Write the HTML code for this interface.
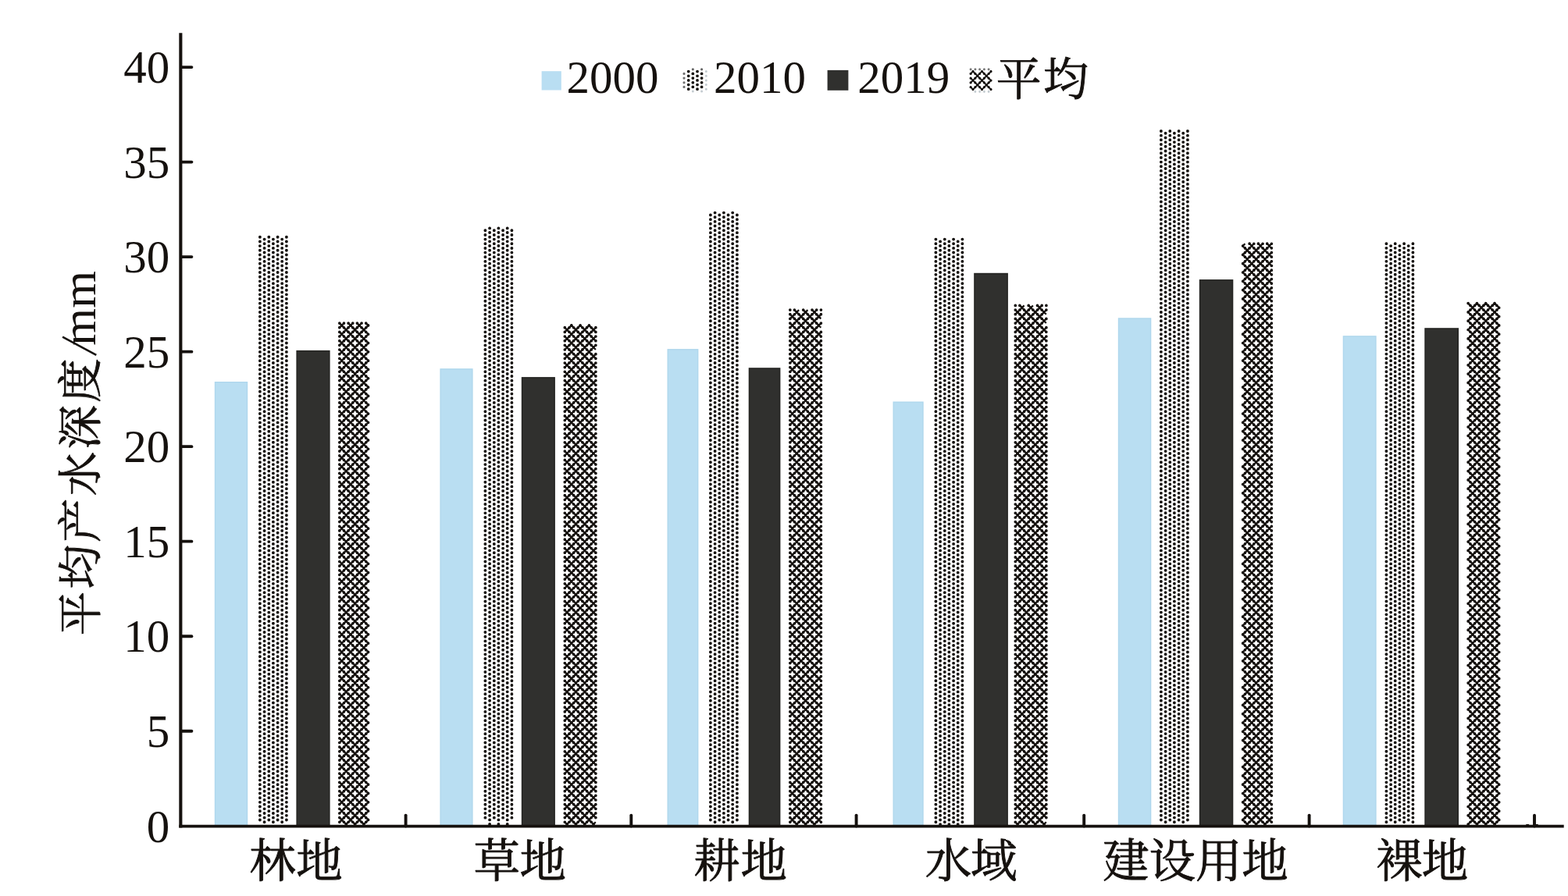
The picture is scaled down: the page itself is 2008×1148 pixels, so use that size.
<!DOCTYPE html>
<html lang="zh"><head><meta charset="utf-8"><title>chart</title>
<style>html,body{margin:0;padding:0;background:#fff;}svg{display:block;}text{font-family:"Liberation Serif",serif;fill:#15110e;}text.cjk{font-family:"Liberation Serif","Noto Serif CJK SC",serif;}</style></head><body>
<svg width="2008" height="1148" viewBox="0 0 2008 1148">
<rect width="2008" height="1148" fill="#fff"/>
<filter id="sb" color-interpolation-filters="sRGB" filterUnits="userSpaceOnUse" x="0" y="0" width="2008" height="1148"><feGaussianBlur stdDeviation="0.55"/></filter>
<g filter="url(#sb)">
<rect x="275.5" y="489.7" width="41.0" height="569.0" fill="#b9def2" stroke="#afd7ed" stroke-width="1.4"/>
<rect x="564.1" y="472.9" width="40.8" height="585.8" fill="#b9def2" stroke="#afd7ed" stroke-width="1.4"/>
<rect x="855.2" y="447.8" width="38.5" height="610.9" fill="#b9def2" stroke="#afd7ed" stroke-width="1.4"/>
<rect x="1144.2" y="515.2" width="37.8" height="543.5" fill="#b9def2" stroke="#afd7ed" stroke-width="1.4"/>
<rect x="1432.5" y="408.0" width="41.1" height="650.7" fill="#b9def2" stroke="#afd7ed" stroke-width="1.4"/>
<rect x="1720.4" y="430.9" width="41.5" height="627.8" fill="#b9def2" stroke="#afd7ed" stroke-width="1.4"/>
<rect x="380.2" y="449.7" width="41.6" height="609.0" fill="#30302e" stroke="#262624" stroke-width="1.6"/>
<rect x="668.6" y="483.9" width="41.5" height="574.8" fill="#30302e" stroke="#262624" stroke-width="1.6"/>
<rect x="959.5" y="472.0" width="39.1" height="586.7" fill="#30302e" stroke="#262624" stroke-width="1.6"/>
<rect x="1248.0" y="350.6" width="42.1" height="708.1" fill="#30302e" stroke="#262624" stroke-width="1.6"/>
<rect x="1536.6" y="358.9" width="41.9" height="699.8" fill="#30302e" stroke="#262624" stroke-width="1.6"/>
<rect x="1825.1" y="421.0" width="42.1" height="637.7" fill="#30302e" stroke="#262624" stroke-width="1.6"/>
</g>
<path d="M332.9,303.8V1056.1M338.6,306.6V1053.3M344.3,303.8V1056.1M349.9,306.6V1053.3M355.6,303.8V1056.1M361.2,306.6V1053.3M366.9,303.8V1056.1M621.4,295.3V1053.3M627.1,292.4V1056.1M632.8,295.3V1053.3M638.4,292.4V1056.1M644.1,295.3V1053.3M649.7,292.4V1056.1M655.4,295.3V1053.3M909.9,275.5V1056.1M915.6,272.6V1053.3M921.3,275.5V1056.1M926.9,272.6V1053.3M932.6,275.5V1056.1M938.2,272.6V1053.3M943.9,275.5V1056.1M1198.4,306.6V1053.3M1204.1,309.4V1056.1M1209.8,306.6V1053.3M1215.4,309.4V1056.1M1221.1,306.6V1053.3M1226.7,309.4V1056.1M1232.4,306.6V1053.3M1486.9,168V1056.1M1492.6,170.8V1053.3M1498.3,168V1056.1M1503.9,170.8V1053.3M1509.6,168V1056.1M1515.2,170.8V1053.3M1520.9,168V1056.1M1775.4,312.2V1053.3M1781.1,315.1V1056.1M1786.7,312.2V1053.3M1792.4,315.1V1056.1M1798.1,312.2V1053.3M1803.7,315.1V1056.1M1809.4,312.2V1053.3" fill="none" stroke="#15110e" stroke-width="3.9" stroke-linecap="round" stroke-dasharray="0 5.6568"/>
<defs><path id="cx" d="M434.8,1047.6l8.5,8.5M434.8,1036.3l19.8,19.8M434.8,1025l31.1,31.1M434.8,1013.7l36.8,36.8M434.8,1002.4l36.8,36.8M434.8,991.1l36.8,36.8M434.8,979.7l36.8,36.8M434.8,968.4l36.8,36.8M434.8,957.1l36.8,36.8M434.8,945.8l36.8,36.8M434.8,934.5l36.8,36.8M434.8,923.2l36.8,36.8M434.8,911.9l36.8,36.8M434.8,900.5l36.8,36.8M434.8,889.2l36.8,36.8M434.8,877.9l36.8,36.8M434.8,866.6l36.8,36.8M434.8,855.3l36.8,36.8M434.8,844l36.8,36.8M434.8,832.7l36.8,36.8M434.8,821.3l36.8,36.8M434.8,810l36.8,36.8M434.8,798.7l36.8,36.8M434.8,787.4l36.8,36.8M434.8,776.1l36.8,36.8M434.8,764.8l36.8,36.8M434.8,753.5l36.8,36.8M434.8,742.2l36.8,36.8M434.8,730.8l36.8,36.8M434.8,719.5l36.8,36.8M434.8,708.2l36.8,36.8M434.8,696.9l36.8,36.8M434.8,685.6l36.8,36.8M434.8,674.3l36.8,36.8M434.8,663l36.8,36.8M434.8,651.6l36.8,36.8M434.8,640.3l36.8,36.8M434.8,629l36.8,36.8M434.8,617.7l36.8,36.8M434.8,606.4l36.8,36.8M434.8,595.1l36.8,36.8M434.8,583.8l36.8,36.8M434.8,572.4l36.8,36.8M434.8,561.1l36.8,36.8M434.8,549.8l36.8,36.8M434.8,538.5l36.8,36.8M434.8,527.2l36.8,36.8M434.8,515.9l36.8,36.8M434.8,504.6l36.8,36.8M434.8,493.3l36.8,36.8M434.8,481.9l36.8,36.8M434.8,470.6l36.8,36.8M434.8,459.3l36.8,36.8M434.8,448l36.8,36.8M434.8,436.7l36.8,36.8M434.8,425.4l36.8,36.8M434.8,414.1l36.8,36.8M446.1,414.1l25.5,25.5M457.4,414.1l14.2,14.2M468.7,414.1l2.8,2.8M434.8,419.7l5.7,-5.7M434.8,431l17,-17M434.8,442.3l28.3,-28.3M434.8,453.7l36.8,-36.8M434.8,465l36.8,-36.8M434.8,476.3l36.8,-36.8M434.8,487.6l36.8,-36.8M434.8,498.9l36.8,-36.8M434.8,510.2l36.8,-36.8M434.8,521.5l36.8,-36.8M434.8,532.9l36.8,-36.8M434.8,544.2l36.8,-36.8M434.8,555.5l36.8,-36.8M434.8,566.8l36.8,-36.8M434.8,578.1l36.8,-36.8M434.8,589.4l36.8,-36.8M434.8,600.7l36.8,-36.8M434.8,612l36.8,-36.8M434.8,623.4l36.8,-36.8M434.8,634.7l36.8,-36.8M434.8,646l36.8,-36.8M434.8,657.3l36.8,-36.8M434.8,668.6l36.8,-36.8M434.8,679.9l36.8,-36.8M434.8,691.2l36.8,-36.8M434.8,702.6l36.8,-36.8M434.8,713.9l36.8,-36.8M434.8,725.2l36.8,-36.8M434.8,736.5l36.8,-36.8M434.8,747.8l36.8,-36.8M434.8,759.1l36.8,-36.8M434.8,770.4l36.8,-36.8M434.8,781.7l36.8,-36.8M434.8,793.1l36.8,-36.8M434.8,804.4l36.8,-36.8M434.8,815.7l36.8,-36.8M434.8,827l36.8,-36.8M434.8,838.3l36.8,-36.8M434.8,849.6l36.8,-36.8M434.8,860.9l36.8,-36.8M434.8,872.3l36.8,-36.8M434.8,883.6l36.8,-36.8M434.8,894.9l36.8,-36.8M434.8,906.2l36.8,-36.8M434.8,917.5l36.8,-36.8M434.8,928.8l36.8,-36.8M434.8,940.1l36.8,-36.8M434.8,951.5l36.8,-36.8M434.8,962.8l36.8,-36.8M434.8,974.1l36.8,-36.8M434.8,985.4l36.8,-36.8M434.8,996.7l36.8,-36.8M434.8,1008l36.8,-36.8M434.8,1019.3l36.8,-36.8M434.8,1030.6l36.8,-36.8M434.8,1042l36.8,-36.8M434.8,1053.3l36.8,-36.8M443.3,1056.1l28.3,-28.3M454.6,1056.1l17,-17M465.9,1056.1l5.7,-5.7M723.3,1053.3l2.8,2.8M723.3,1042l14.2,14.2M723.3,1030.6l25.5,25.5M723.3,1019.3l36.8,36.8M723.3,1008l39.6,39.6M723.3,996.7l39.6,39.6M723.3,985.4l39.6,39.6M723.3,974.1l39.6,39.6M723.3,962.8l39.6,39.6M723.3,951.5l39.6,39.6M723.3,940.1l39.6,39.6M723.3,928.8l39.6,39.6M723.3,917.5l39.6,39.6M723.3,906.2l39.6,39.6M723.3,894.9l39.6,39.6M723.3,883.6l39.6,39.6M723.3,872.3l39.6,39.6M723.3,860.9l39.6,39.6M723.3,849.6l39.6,39.6M723.3,838.3l39.6,39.6M723.3,827l39.6,39.6M723.3,815.7l39.6,39.6M723.3,804.4l39.6,39.6M723.3,793.1l39.6,39.6M723.3,781.7l39.6,39.6M723.3,770.4l39.6,39.6M723.3,759.1l39.6,39.6M723.3,747.8l39.6,39.6M723.3,736.5l39.6,39.6M723.3,725.2l39.6,39.6M723.3,713.9l39.6,39.6M723.3,702.6l39.6,39.6M723.3,691.2l39.6,39.6M723.3,679.9l39.6,39.6M723.3,668.6l39.6,39.6M723.3,657.3l39.6,39.6M723.3,646l39.6,39.6M723.3,634.7l39.6,39.6M723.3,623.4l39.6,39.6M723.3,612l39.6,39.6M723.3,600.7l39.6,39.6M723.3,589.4l39.6,39.6M723.3,578.1l39.6,39.6M723.3,566.8l39.6,39.6M723.3,555.5l39.6,39.6M723.3,544.2l39.6,39.6M723.3,532.9l39.6,39.6M723.3,521.5l39.6,39.6M723.3,510.2l39.6,39.6M723.3,498.9l39.6,39.6M723.3,487.6l39.6,39.6M723.3,476.3l39.6,39.6M723.3,465l39.6,39.6M723.3,453.7l39.6,39.6M723.3,442.3l39.6,39.6M723.3,431l39.6,39.6M723.3,419.7l39.6,39.6M731.8,416.9l31.1,31.1M743.1,416.9l19.8,19.8M754.4,416.9l8.5,8.5M723.3,425.4l8.5,-8.5M723.3,436.7l19.8,-19.8M723.3,448l31.1,-31.1M723.3,459.3l39.6,-39.6M723.3,470.6l39.6,-39.6M723.3,481.9l39.6,-39.6M723.3,493.3l39.6,-39.6M723.3,504.6l39.6,-39.6M723.3,515.9l39.6,-39.6M723.3,527.2l39.6,-39.6M723.3,538.5l39.6,-39.6M723.3,549.8l39.6,-39.6M723.3,561.1l39.6,-39.6M723.3,572.4l39.6,-39.6M723.3,583.8l39.6,-39.6M723.3,595.1l39.6,-39.6M723.3,606.4l39.6,-39.6M723.3,617.7l39.6,-39.6M723.3,629l39.6,-39.6M723.3,640.3l39.6,-39.6M723.3,651.6l39.6,-39.6M723.3,663l39.6,-39.6M723.3,674.3l39.6,-39.6M723.3,685.6l39.6,-39.6M723.3,696.9l39.6,-39.6M723.3,708.2l39.6,-39.6M723.3,719.5l39.6,-39.6M723.3,730.8l39.6,-39.6M723.3,742.2l39.6,-39.6M723.3,753.5l39.6,-39.6M723.3,764.8l39.6,-39.6M723.3,776.1l39.6,-39.6M723.3,787.4l39.6,-39.6M723.3,798.7l39.6,-39.6M723.3,810l39.6,-39.6M723.3,821.3l39.6,-39.6M723.3,832.7l39.6,-39.6M723.3,844l39.6,-39.6M723.3,855.3l39.6,-39.6M723.3,866.6l39.6,-39.6M723.3,877.9l39.6,-39.6M723.3,889.2l39.6,-39.6M723.3,900.5l39.6,-39.6M723.3,911.9l39.6,-39.6M723.3,923.2l39.6,-39.6M723.3,934.5l39.6,-39.6M723.3,945.8l39.6,-39.6M723.3,957.1l39.6,-39.6M723.3,968.4l39.6,-39.6M723.3,979.7l39.6,-39.6M723.3,991.1l39.6,-39.6M723.3,1002.4l39.6,-39.6M723.3,1013.7l39.6,-39.6M723.3,1025l39.6,-39.6M723.3,1036.3l39.6,-39.6M723.3,1047.6l39.6,-39.6M726.1,1056.1l36.8,-36.8M737.4,1056.1l25.5,-25.5M748.7,1056.1l14.2,-14.2M760,1056.1l2.8,-2.8M1011.8,1047.6l8.5,8.5M1011.8,1036.3l19.8,19.8M1011.8,1025l31.1,31.1M1011.8,1013.7l39.6,39.6M1011.8,1002.4l39.6,39.6M1011.8,991.1l39.6,39.6M1011.8,979.7l39.6,39.6M1011.8,968.4l39.6,39.6M1011.8,957.1l39.6,39.6M1011.8,945.8l39.6,39.6M1011.8,934.5l39.6,39.6M1011.8,923.2l39.6,39.6M1011.8,911.9l39.6,39.6M1011.8,900.5l39.6,39.6M1011.8,889.2l39.6,39.6M1011.8,877.9l39.6,39.6M1011.8,866.6l39.6,39.6M1011.8,855.3l39.6,39.6M1011.8,844l39.6,39.6M1011.8,832.7l39.6,39.6M1011.8,821.3l39.6,39.6M1011.8,810l39.6,39.6M1011.8,798.7l39.6,39.6M1011.8,787.4l39.6,39.6M1011.8,776.1l39.6,39.6M1011.8,764.8l39.6,39.6M1011.8,753.5l39.6,39.6M1011.8,742.2l39.6,39.6M1011.8,730.8l39.6,39.6M1011.8,719.5l39.6,39.6M1011.8,708.2l39.6,39.6M1011.8,696.9l39.6,39.6M1011.8,685.6l39.6,39.6M1011.8,674.3l39.6,39.6M1011.8,663l39.6,39.6M1011.8,651.6l39.6,39.6M1011.8,640.3l39.6,39.6M1011.8,629l39.6,39.6M1011.8,617.7l39.6,39.6M1011.8,606.4l39.6,39.6M1011.8,595.1l39.6,39.6M1011.8,583.8l39.6,39.6M1011.8,572.4l39.6,39.6M1011.8,561.1l39.6,39.6M1011.8,549.8l39.6,39.6M1011.8,538.5l39.6,39.6M1011.8,527.2l39.6,39.6M1011.8,515.9l39.6,39.6M1011.8,504.6l39.6,39.6M1011.8,493.3l39.6,39.6M1011.8,481.9l39.6,39.6M1011.8,470.6l39.6,39.6M1011.8,459.3l39.6,39.6M1011.8,448l39.6,39.6M1011.8,436.7l39.6,39.6M1011.8,425.4l39.6,39.6M1011.8,414.1l39.6,39.6M1011.8,402.7l39.6,39.6M1017.4,397.1l34,34M1028.7,397.1l22.6,22.6M1040,397.1l11.3,11.3M1051.4,397.1l0.02,0.02M1011.8,397.1l0.02,-0.02M1011.8,408.4l11.3,-11.3M1011.8,419.7l22.6,-22.6M1011.8,431l34,-34M1011.8,442.3l39.6,-39.6M1011.8,453.7l39.6,-39.6M1011.8,465l39.6,-39.6M1011.8,476.3l39.6,-39.6M1011.8,487.6l39.6,-39.6M1011.8,498.9l39.6,-39.6M1011.8,510.2l39.6,-39.6M1011.8,521.5l39.6,-39.6M1011.8,532.9l39.6,-39.6M1011.8,544.2l39.6,-39.6M1011.8,555.5l39.6,-39.6M1011.8,566.8l39.6,-39.6M1011.8,578.1l39.6,-39.6M1011.8,589.4l39.6,-39.6M1011.8,600.7l39.6,-39.6M1011.8,612l39.6,-39.6M1011.8,623.4l39.6,-39.6M1011.8,634.7l39.6,-39.6M1011.8,646l39.6,-39.6M1011.8,657.3l39.6,-39.6M1011.8,668.6l39.6,-39.6M1011.8,679.9l39.6,-39.6M1011.8,691.2l39.6,-39.6M1011.8,702.6l39.6,-39.6M1011.8,713.9l39.6,-39.6M1011.8,725.2l39.6,-39.6M1011.8,736.5l39.6,-39.6M1011.8,747.8l39.6,-39.6M1011.8,759.1l39.6,-39.6M1011.8,770.4l39.6,-39.6M1011.8,781.7l39.6,-39.6M1011.8,793.1l39.6,-39.6M1011.8,804.4l39.6,-39.6M1011.8,815.7l39.6,-39.6M1011.8,827l39.6,-39.6M1011.8,838.3l39.6,-39.6M1011.8,849.6l39.6,-39.6M1011.8,860.9l39.6,-39.6M1011.8,872.3l39.6,-39.6M1011.8,883.6l39.6,-39.6M1011.8,894.9l39.6,-39.6M1011.8,906.2l39.6,-39.6M1011.8,917.5l39.6,-39.6M1011.8,928.8l39.6,-39.6M1011.8,940.1l39.6,-39.6M1011.8,951.5l39.6,-39.6M1011.8,962.8l39.6,-39.6M1011.8,974.1l39.6,-39.6M1011.8,985.4l39.6,-39.6M1011.8,996.7l39.6,-39.6M1011.8,1008l39.6,-39.6M1011.8,1019.3l39.6,-39.6M1011.8,1030.6l39.6,-39.6M1011.8,1042l39.6,-39.6M1011.8,1053.3l39.6,-39.6M1020.3,1056.1l31.1,-31.1M1031.6,1056.1l19.8,-19.8M1042.9,1056.1l8.5,-8.5M1300.3,1053.3l2.8,2.8M1300.3,1042l14.2,14.2M1300.3,1030.6l25.5,25.5M1300.3,1019.3l36.8,36.8M1300.3,1008l39.6,39.6M1300.3,996.7l39.6,39.6M1300.3,985.4l39.6,39.6M1300.3,974.1l39.6,39.6M1300.3,962.8l39.6,39.6M1300.3,951.5l39.6,39.6M1300.3,940.1l39.6,39.6M1300.3,928.8l39.6,39.6M1300.3,917.5l39.6,39.6M1300.3,906.2l39.6,39.6M1300.3,894.9l39.6,39.6M1300.3,883.6l39.6,39.6M1300.3,872.3l39.6,39.6M1300.3,860.9l39.6,39.6M1300.3,849.6l39.6,39.6M1300.3,838.3l39.6,39.6M1300.3,827l39.6,39.6M1300.3,815.7l39.6,39.6M1300.3,804.4l39.6,39.6M1300.3,793.1l39.6,39.6M1300.3,781.7l39.6,39.6M1300.3,770.4l39.6,39.6M1300.3,759.1l39.6,39.6M1300.3,747.8l39.6,39.6M1300.3,736.5l39.6,39.6M1300.3,725.2l39.6,39.6M1300.3,713.9l39.6,39.6M1300.3,702.6l39.6,39.6M1300.3,691.2l39.6,39.6M1300.3,679.9l39.6,39.6M1300.3,668.6l39.6,39.6M1300.3,657.3l39.6,39.6M1300.3,646l39.6,39.6M1300.3,634.7l39.6,39.6M1300.3,623.4l39.6,39.6M1300.3,612l39.6,39.6M1300.3,600.7l39.6,39.6M1300.3,589.4l39.6,39.6M1300.3,578.1l39.6,39.6M1300.3,566.8l39.6,39.6M1300.3,555.5l39.6,39.6M1300.3,544.2l39.6,39.6M1300.3,532.9l39.6,39.6M1300.3,521.5l39.6,39.6M1300.3,510.2l39.6,39.6M1300.3,498.9l39.6,39.6M1300.3,487.6l39.6,39.6M1300.3,476.3l39.6,39.6M1300.3,465l39.6,39.6M1300.3,453.7l39.6,39.6M1300.3,442.3l39.6,39.6M1300.3,431l39.6,39.6M1300.3,419.7l39.6,39.6M1300.3,408.4l39.6,39.6M1300.3,397.1l39.6,39.6M1305.9,391.4l34,34M1317.2,391.4l22.6,22.6M1328.5,391.4l11.3,11.3M1339.9,391.4l0.02,0.02M1300.3,391.4l0.02,-0.02M1300.3,402.7l11.3,-11.3M1300.3,414.1l22.6,-22.6M1300.3,425.4l34,-34M1300.3,436.7l39.6,-39.6M1300.3,448l39.6,-39.6M1300.3,459.3l39.6,-39.6M1300.3,470.6l39.6,-39.6M1300.3,481.9l39.6,-39.6M1300.3,493.3l39.6,-39.6M1300.3,504.6l39.6,-39.6M1300.3,515.9l39.6,-39.6M1300.3,527.2l39.6,-39.6M1300.3,538.5l39.6,-39.6M1300.3,549.8l39.6,-39.6M1300.3,561.1l39.6,-39.6M1300.3,572.4l39.6,-39.6M1300.3,583.8l39.6,-39.6M1300.3,595.1l39.6,-39.6M1300.3,606.4l39.6,-39.6M1300.3,617.7l39.6,-39.6M1300.3,629l39.6,-39.6M1300.3,640.3l39.6,-39.6M1300.3,651.6l39.6,-39.6M1300.3,663l39.6,-39.6M1300.3,674.3l39.6,-39.6M1300.3,685.6l39.6,-39.6M1300.3,696.9l39.6,-39.6M1300.3,708.2l39.6,-39.6M1300.3,719.5l39.6,-39.6M1300.3,730.8l39.6,-39.6M1300.3,742.2l39.6,-39.6M1300.3,753.5l39.6,-39.6M1300.3,764.8l39.6,-39.6M1300.3,776.1l39.6,-39.6M1300.3,787.4l39.6,-39.6M1300.3,798.7l39.6,-39.6M1300.3,810l39.6,-39.6M1300.3,821.3l39.6,-39.6M1300.3,832.7l39.6,-39.6M1300.3,844l39.6,-39.6M1300.3,855.3l39.6,-39.6M1300.3,866.6l39.6,-39.6M1300.3,877.9l39.6,-39.6M1300.3,889.2l39.6,-39.6M1300.3,900.5l39.6,-39.6M1300.3,911.9l39.6,-39.6M1300.3,923.2l39.6,-39.6M1300.3,934.5l39.6,-39.6M1300.3,945.8l39.6,-39.6M1300.3,957.1l39.6,-39.6M1300.3,968.4l39.6,-39.6M1300.3,979.7l39.6,-39.6M1300.3,991.1l39.6,-39.6M1300.3,1002.4l39.6,-39.6M1300.3,1013.7l39.6,-39.6M1300.3,1025l39.6,-39.6M1300.3,1036.3l39.6,-39.6M1300.3,1047.6l39.6,-39.6M1303.1,1056.1l36.8,-36.8M1314.4,1056.1l25.5,-25.5M1325.7,1056.1l14.2,-14.2M1337,1056.1l2.8,-2.8M1591.6,1050.4l5.7,5.7M1591.6,1039.1l17,17M1591.6,1027.8l28.3,28.3M1591.6,1016.5l36.8,36.8M1591.6,1005.2l36.8,36.8M1591.6,993.9l36.8,36.8M1591.6,982.6l36.8,36.8M1591.6,971.3l36.8,36.8M1591.6,959.9l36.8,36.8M1591.6,948.6l36.8,36.8M1591.6,937.3l36.8,36.8M1591.6,926l36.8,36.8M1591.6,914.7l36.8,36.8M1591.6,903.4l36.8,36.8M1591.6,892.1l36.8,36.8M1591.6,880.7l36.8,36.8M1591.6,869.4l36.8,36.8M1591.6,858.1l36.8,36.8M1591.6,846.8l36.8,36.8M1591.6,835.5l36.8,36.8M1591.6,824.2l36.8,36.8M1591.6,812.9l36.8,36.8M1591.6,801.5l36.8,36.8M1591.6,790.2l36.8,36.8M1591.6,778.9l36.8,36.8M1591.6,767.6l36.8,36.8M1591.6,756.3l36.8,36.8M1591.6,745l36.8,36.8M1591.6,733.7l36.8,36.8M1591.6,722.4l36.8,36.8M1591.6,711l36.8,36.8M1591.6,699.7l36.8,36.8M1591.6,688.4l36.8,36.8M1591.6,677.1l36.8,36.8M1591.6,665.8l36.8,36.8M1591.6,654.5l36.8,36.8M1591.6,643.2l36.8,36.8M1591.6,631.8l36.8,36.8M1591.6,620.5l36.8,36.8M1591.6,609.2l36.8,36.8M1591.6,597.9l36.8,36.8M1591.6,586.6l36.8,36.8M1591.6,575.3l36.8,36.8M1591.6,564l36.8,36.8M1591.6,552.6l36.8,36.8M1591.6,541.3l36.8,36.8M1591.6,530l36.8,36.8M1591.6,518.7l36.8,36.8M1591.6,507.4l36.8,36.8M1591.6,496.1l36.8,36.8M1591.6,484.8l36.8,36.8M1591.6,473.5l36.8,36.8M1591.6,462.1l36.8,36.8M1591.6,450.8l36.8,36.8M1591.6,439.5l36.8,36.8M1591.6,428.2l36.8,36.8M1591.6,416.9l36.8,36.8M1591.6,405.6l36.8,36.8M1591.6,394.3l36.8,36.8M1591.6,382.9l36.8,36.8M1591.6,371.6l36.8,36.8M1591.6,360.3l36.8,36.8M1591.6,349l36.8,36.8M1591.6,337.7l36.8,36.8M1591.6,326.4l36.8,36.8M1591.6,315.1l36.8,36.8M1600.1,312.2l28.3,28.3M1611.4,312.2l17,17M1622.7,312.2l5.7,5.7M1591.6,315.1l2.8,-2.8M1591.6,326.4l14.2,-14.2M1591.6,337.7l25.5,-25.5M1591.6,349l36.8,-36.8M1591.6,360.3l36.8,-36.8M1591.6,371.6l36.8,-36.8M1591.6,382.9l36.8,-36.8M1591.6,394.3l36.8,-36.8M1591.6,405.6l36.8,-36.8M1591.6,416.9l36.8,-36.8M1591.6,428.2l36.8,-36.8M1591.6,439.5l36.8,-36.8M1591.6,450.8l36.8,-36.8M1591.6,462.1l36.8,-36.8M1591.6,473.5l36.8,-36.8M1591.6,484.8l36.8,-36.8M1591.6,496.1l36.8,-36.8M1591.6,507.4l36.8,-36.8M1591.6,518.7l36.8,-36.8M1591.6,530l36.8,-36.8M1591.6,541.3l36.8,-36.8M1591.6,552.6l36.8,-36.8M1591.6,564l36.8,-36.8M1591.6,575.3l36.8,-36.8M1591.6,586.6l36.8,-36.8M1591.6,597.9l36.8,-36.8M1591.6,609.2l36.8,-36.8M1591.6,620.5l36.8,-36.8M1591.6,631.8l36.8,-36.8M1591.6,643.2l36.8,-36.8M1591.6,654.5l36.8,-36.8M1591.6,665.8l36.8,-36.8M1591.6,677.1l36.8,-36.8M1591.6,688.4l36.8,-36.8M1591.6,699.7l36.8,-36.8M1591.6,711l36.8,-36.8M1591.6,722.4l36.8,-36.8M1591.6,733.7l36.8,-36.8M1591.6,745l36.8,-36.8M1591.6,756.3l36.8,-36.8M1591.6,767.6l36.8,-36.8M1591.6,778.9l36.8,-36.8M1591.6,790.2l36.8,-36.8M1591.6,801.5l36.8,-36.8M1591.6,812.9l36.8,-36.8M1591.6,824.2l36.8,-36.8M1591.6,835.5l36.8,-36.8M1591.6,846.8l36.8,-36.8M1591.6,858.1l36.8,-36.8M1591.6,869.4l36.8,-36.8M1591.6,880.7l36.8,-36.8M1591.6,892.1l36.8,-36.8M1591.6,903.4l36.8,-36.8M1591.6,914.7l36.8,-36.8M1591.6,926l36.8,-36.8M1591.6,937.3l36.8,-36.8M1591.6,948.6l36.8,-36.8M1591.6,959.9l36.8,-36.8M1591.6,971.3l36.8,-36.8M1591.6,982.6l36.8,-36.8M1591.6,993.9l36.8,-36.8M1591.6,1005.2l36.8,-36.8M1591.6,1016.5l36.8,-36.8M1591.6,1027.8l36.8,-36.8M1591.6,1039.1l36.8,-36.8M1591.6,1050.4l36.8,-36.8M1597.2,1056.1l31.1,-31.1M1608.6,1056.1l19.8,-19.8M1619.9,1056.1l8.5,-8.5M1880.1,1056.1l0.02,0.02M1880.1,1044.8l11.3,11.3M1880.1,1033.5l22.6,22.6M1880.1,1022.2l34,34M1880.1,1010.8l39.6,39.6M1880.1,999.5l39.6,39.6M1880.1,988.2l39.6,39.6M1880.1,976.9l39.6,39.6M1880.1,965.6l39.6,39.6M1880.1,954.3l39.6,39.6M1880.1,943l39.6,39.6M1880.1,931.7l39.6,39.6M1880.1,920.3l39.6,39.6M1880.1,909l39.6,39.6M1880.1,897.7l39.6,39.6M1880.1,886.4l39.6,39.6M1880.1,875.1l39.6,39.6M1880.1,863.8l39.6,39.6M1880.1,852.5l39.6,39.6M1880.1,841.1l39.6,39.6M1880.1,829.8l39.6,39.6M1880.1,818.5l39.6,39.6M1880.1,807.2l39.6,39.6M1880.1,795.9l39.6,39.6M1880.1,784.6l39.6,39.6M1880.1,773.3l39.6,39.6M1880.1,762l39.6,39.6M1880.1,750.6l39.6,39.6M1880.1,739.3l39.6,39.6M1880.1,728l39.6,39.6M1880.1,716.7l39.6,39.6M1880.1,705.4l39.6,39.6M1880.1,694.1l39.6,39.6M1880.1,682.8l39.6,39.6M1880.1,671.4l39.6,39.6M1880.1,660.1l39.6,39.6M1880.1,648.8l39.6,39.6M1880.1,637.5l39.6,39.6M1880.1,626.2l39.6,39.6M1880.1,614.9l39.6,39.6M1880.1,603.6l39.6,39.6M1880.1,592.2l39.6,39.6M1880.1,580.9l39.6,39.6M1880.1,569.6l39.6,39.6M1880.1,558.3l39.6,39.6M1880.1,547l39.6,39.6M1880.1,535.7l39.6,39.6M1880.1,524.4l39.6,39.6M1880.1,513.1l39.6,39.6M1880.1,501.7l39.6,39.6M1880.1,490.4l39.6,39.6M1880.1,479.1l39.6,39.6M1880.1,467.8l39.6,39.6M1880.1,456.5l39.6,39.6M1880.1,445.2l39.6,39.6M1880.1,433.9l39.6,39.6M1880.1,422.5l39.6,39.6M1880.1,411.2l39.6,39.6M1880.1,399.9l39.6,39.6M1880.1,388.6l39.6,39.6M1891.4,388.6l28.3,28.3M1902.7,388.6l17,17M1914,388.6l5.7,5.7M1880.1,388.6l0.02,-0.02M1880.1,399.9l11.3,-11.3M1880.1,411.2l22.6,-22.6M1880.1,422.5l34,-34M1880.1,433.9l39.6,-39.6M1880.1,445.2l39.6,-39.6M1880.1,456.5l39.6,-39.6M1880.1,467.8l39.6,-39.6M1880.1,479.1l39.6,-39.6M1880.1,490.4l39.6,-39.6M1880.1,501.7l39.6,-39.6M1880.1,513.1l39.6,-39.6M1880.1,524.4l39.6,-39.6M1880.1,535.7l39.6,-39.6M1880.1,547l39.6,-39.6M1880.1,558.3l39.6,-39.6M1880.1,569.6l39.6,-39.6M1880.1,580.9l39.6,-39.6M1880.1,592.2l39.6,-39.6M1880.1,603.6l39.6,-39.6M1880.1,614.9l39.6,-39.6M1880.1,626.2l39.6,-39.6M1880.1,637.5l39.6,-39.6M1880.1,648.8l39.6,-39.6M1880.1,660.1l39.6,-39.6M1880.1,671.4l39.6,-39.6M1880.1,682.8l39.6,-39.6M1880.1,694.1l39.6,-39.6M1880.1,705.4l39.6,-39.6M1880.1,716.7l39.6,-39.6M1880.1,728l39.6,-39.6M1880.1,739.3l39.6,-39.6M1880.1,750.6l39.6,-39.6M1880.1,762l39.6,-39.6M1880.1,773.3l39.6,-39.6M1880.1,784.6l39.6,-39.6M1880.1,795.9l39.6,-39.6M1880.1,807.2l39.6,-39.6M1880.1,818.5l39.6,-39.6M1880.1,829.8l39.6,-39.6M1880.1,841.1l39.6,-39.6M1880.1,852.5l39.6,-39.6M1880.1,863.8l39.6,-39.6M1880.1,875.1l39.6,-39.6M1880.1,886.4l39.6,-39.6M1880.1,897.7l39.6,-39.6M1880.1,909l39.6,-39.6M1880.1,920.3l39.6,-39.6M1880.1,931.7l39.6,-39.6M1880.1,943l39.6,-39.6M1880.1,954.3l39.6,-39.6M1880.1,965.6l39.6,-39.6M1880.1,976.9l39.6,-39.6M1880.1,988.2l39.6,-39.6M1880.1,999.5l39.6,-39.6M1880.1,1010.8l39.6,-39.6M1880.1,1022.2l39.6,-39.6M1880.1,1033.5l39.6,-39.6M1880.1,1044.8l39.6,-39.6M1880.1,1056.1l39.6,-39.6M1891.4,1056.1l28.3,-28.3M1902.7,1056.1l17,-17M1914,1056.1l5.7,-5.7"/></defs>
<use href="#cx" fill="none" stroke="#15110e" stroke-width="3.7" stroke-linecap="round" stroke-dasharray="0 4.0000"/>
<use href="#cx" fill="none" stroke="#15110e" stroke-width="2.2" stroke-linecap="butt"/>
<g stroke="#15110e" stroke-linecap="butt" fill="none">
<path d="M231.35,42.2V1060.45" stroke-width="4.1"/>
<path d="M229.3,1058.55H2002.7" stroke-width="3.8"/>
</g>
<g stroke="#15110e" stroke-width="3.9" stroke-linecap="round" fill="none">
<path d="M233,936.69H245.4"/>
<path d="M233,815.18H245.4"/>
<path d="M233,693.66H245.4"/>
<path d="M233,572.15H245.4"/>
<path d="M233,450.64H245.4"/>
<path d="M233,329.12H245.4"/>
<path d="M233,207.61H245.4"/>
<path d="M233,86.10H245.4"/>
<path d="M519.6,1058.5V1044.6"/>
<path d="M808.3,1058.5V1044.6"/>
<path d="M1096.6,1058.5V1044.6"/>
<path d="M1388.2,1058.5V1044.6"/>
<path d="M1676.6,1058.5V1044.6"/>
<path d="M1965.0,1058.5V1044.6"/>
</g>
<path d="M1954.9,1056.9h2.6M1966.7,1056.9h2.4" stroke="#15110e" stroke-width="1.6" stroke-linecap="round"/>
<text x="217.3" y="1078.6" font-size="59" text-anchor="end">0</text>
<text x="217.3" y="956.6" font-size="59" text-anchor="end">5</text>
<text x="217.3" y="835.1" font-size="59" text-anchor="end">10</text>
<text x="217.3" y="713.6" font-size="59" text-anchor="end">15</text>
<text x="217.3" y="592.1" font-size="59" text-anchor="end">20</text>
<text x="217.3" y="470.6" font-size="59" text-anchor="end">25</text>
<text x="217.3" y="349.1" font-size="59" text-anchor="end">30</text>
<text x="217.3" y="227.6" font-size="59" text-anchor="end">35</text>
<text x="217.3" y="106.0" font-size="59" text-anchor="end">40</text>
<g fill="#15110e" stroke="#15110e" stroke-width="0.9" stroke-linejoin="round">
<text class="cjk" x="319.17 379.28" y="1124.10" font-size="59.5">林地</text>
<text class="cjk" x="606.48 665.58" y="1124.10" font-size="59.5">草地</text>
<text class="cjk" x="888.26 948.49" y="1124.10" font-size="59.5">耕地</text>
<text class="cjk" x="1184.63 1242.97" y="1124.10" font-size="59.5">水域</text>
<text class="cjk" x="1412.29 1471.62 1530.95 1590.28" y="1124.10" font-size="59.5">建设用地</text>
<text class="cjk" x="1762.21 1820.78" y="1124.10" font-size="59.5">裸地</text>
<text class="cjk" x="1275.85 1336.05" y="121.86" font-size="57.8">平均</text>
</g>
<text x="725.4" y="118.7" font-size="59">2000</text>
<text x="913.9" y="118.7" font-size="59">2010</text>
<text x="1098.3" y="118.7" font-size="59">2019</text>
<filter id="bl" color-interpolation-filters="sRGB" x="-20%" y="-20%" width="140%" height="140%"><feGaussianBlur stdDeviation="0.7"/></filter>
<rect x="693.6" y="91.2" width="25.2" height="24.3" fill="#b9def2"/>
<rect x="1059.6" y="89.9" width="26.8" height="25.9" fill="#30302e" filter="url(#bl)"/>
<g filter="url(#bl)">
<path d="M876,94.4h0.02M876,100.1h0.02M876,105.8h0.02M876,111.4h0.02" fill="none" stroke="#6f6f6f" stroke-width="3.2" stroke-linecap="round"/>
<path d="M887.3,88.8h0.02M898.6,88.8h0.02" fill="none" stroke="#666" stroke-width="3.2" stroke-linecap="round"/>
<path d="M904.3,91.6h0.02M904.3,97.3h0.02M904.3,102.9h0.02M904.3,108.6h0.02M904.3,114.2h0.02" fill="none" stroke="#c3cbd0" stroke-width="3.0" stroke-linecap="round"/>
<path d="M887.3,117.1h0.02M898.6,117.1h0.02" fill="none" stroke="#c3cbd0" stroke-width="3.0" stroke-linecap="round"/>
</g>
<path d="M881.7,91.6h0.02M881.7,97.3h0.02M881.7,102.9h0.02M881.7,108.6h0.02M881.7,114.2h0.02M887.3,94.4h0.02M887.3,100.1h0.02M887.3,105.8h0.02M887.3,111.4h0.02M893,91.6h0.02M893,97.3h0.02M893,102.9h0.02M893,108.6h0.02M893,114.2h0.02M898.6,94.4h0.02M898.6,100.1h0.02M898.6,105.8h0.02M898.6,111.4h0.02" fill="none" stroke="#15110e" stroke-width="3.8" stroke-linecap="round"/>
<g filter="url(#bl)">
<path d="M1243.1,88.7h0.02M1248.9,88.7h0.02M1254.6,88.7h0.02M1260.4,88.7h0.02M1266.1,88.7h0.02" fill="none" stroke="#777" stroke-width="3.0" stroke-linecap="round"/>
<path d="M1248.9,117.5h0.02M1254.6,117.5h0.02M1260.4,117.5h0.02M1266.1,117.5h0.02" fill="none" stroke="#c3cbd0" stroke-width="2.8" stroke-linecap="round"/>
</g>
<path d="M1243.1,111.7l2.90,2.90M1243.1,100.2l14.42,14.42M1246,91.5l23.06,23.06M1257.5,91.5l11.54,11.54M1269,91.5l0.02,0.02M1243.1,94.4l2.90,-2.90M1243.1,105.9l14.42,-14.42M1246,114.6l23.06,-23.06M1257.5,114.6l11.54,-11.54M1269,114.6l0.02,-0.02" fill="none" stroke="#15110e" stroke-width="3.2" stroke-linecap="round" stroke-dasharray="0 4.0729"/>
<path d="M1243.1,111.7l2.90,2.90M1243.1,100.2l14.42,14.42M1246,91.5l23.06,23.06M1257.5,91.5l11.54,11.54M1269,91.5l0.02,0.02M1243.1,94.4l2.90,-2.90M1243.1,105.9l14.42,-14.42M1246,114.6l23.06,-23.06M1257.5,114.6l11.54,-11.54M1269,114.6l0.02,-0.02" fill="none" stroke="#15110e" stroke-width="1.8" stroke-linecap="butt"/>
<g transform="translate(122.7,814.3) rotate(-90)" fill="#15110e">
<text class="cjk" x="0 59.7 119.4 179.1 238.8 298.5" y="0" font-size="56.5" stroke="#15110e" stroke-width="0.85" stroke-linejoin="round">平均产水深度</text>
<path d="M359.4,0.6L382.7,-42.6" stroke="#15110e" stroke-width="2.6" fill="none"/>
<text x="371.6" y="-0.4" font-size="61.5">mm</text>
</g>
</svg></body></html>
